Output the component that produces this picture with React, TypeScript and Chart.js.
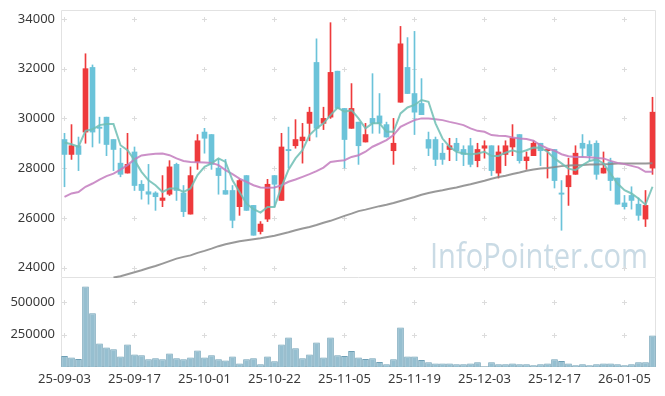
import React, { useEffect, useRef } from 'react';
import { Chart, registerables } from 'chart.js';
Chart.register(...registerables);

const dates = [
  '25-09-03','25-09-04','25-09-05','25-09-08','25-09-09','25-09-10','25-09-11','25-09-12','25-09-15','25-09-16',
  '25-09-17','25-09-18','25-09-19','25-09-22','25-09-23','25-09-24','25-09-25','25-09-26','25-09-29','25-09-30',
  '25-10-01','25-10-02','25-10-10','25-10-13','25-10-14','25-10-15','25-10-16','25-10-17','25-10-20','25-10-21',
  '25-10-22','25-10-23','25-10-24','25-10-27','25-10-28','25-10-29','25-10-30','25-10-31','25-11-03','25-11-04',
  '25-11-05','25-11-06','25-11-07','25-11-10','25-11-11','25-11-12','25-11-13','25-11-14','25-11-17','25-11-18',
  '25-11-19','25-11-20','25-11-21','25-11-24','25-11-25','25-11-26','25-11-27','25-11-28','25-12-01','25-12-02',
  '25-12-03','25-12-04','25-12-05','25-12-08','25-12-09','25-12-10','25-12-11','25-12-12','25-12-15','25-12-16',
  '25-12-17','25-12-18','25-12-19','25-12-22','25-12-23','25-12-24','25-12-26','25-12-29','25-12-30','26-01-02',
  '26-01-05','26-01-06','26-01-07','26-01-08','26-01-09'
];

const opens = [
  29150,28550,28900,29450,32050,29650,30050,29150,28200,27800,
  28650,27350,27050,27000,26700,26950,28150,27000,26150,28250,
  29450,29350,28000,27100,27100,26450,27700,26500,25450,25950,
  27700,26700,28750,28900,29100,29800,32250,29800,30050,31900,
  30400,29600,29850,29050,30000,30100,29750,28700,30650,32050,
  31000,30600,29150,29150,28600,28750,29000,28750,28900,28300,
  28800,28900,27800,28550,28850,29350,28300,28500,29000,28700,
  28750,27000,27250,27750,29000,28950,29000,27800,28250,27600,
  26600,26900,26550,25950,28000
];
const highs = [
  29400,29750,29250,32600,32150,30050,30050,29150,28800,29400,
  28850,27500,28150,27050,27700,28300,28200,27300,28050,29350,
  29600,29350,28350,28350,27300,27550,27700,26500,25850,27550,
  27700,29400,29650,29950,29800,30450,33200,30450,33850,31900,
  30400,31400,29850,29800,31800,31000,29850,30000,33700,33250,
  33500,31600,29450,29250,29000,29200,29200,28900,29200,29000,
  29100,28900,28900,29100,29750,29350,28650,29100,29000,28750,
  28750,27500,28400,28900,29350,29100,29100,28650,28400,27600,
  26900,27250,26800,27100,30850
];
const lows = [
  27250,28350,27900,29000,28850,29000,28500,27900,27650,27800,
  27100,26750,26550,26300,26450,26900,26700,26050,26150,27950,
  28600,27950,26950,26950,25600,26100,26300,25300,25350,25850,
  26450,26700,28000,28800,28200,29100,29250,29550,30000,30400,
  28000,29600,28150,29050,29400,29400,29250,28150,30650,31000,
  29350,30150,28500,28100,28150,28300,28300,28100,28050,28050,
  28400,27700,27600,28100,28500,28200,27950,28500,28100,27600,
  27200,25500,26500,27750,28450,28300,27550,27800,27100,26550,
  26350,26350,25900,25650,27750
];
const closes = [
  28550,28900,28550,32000,29450,29600,28950,28750,27750,28150,
  27300,27100,26950,26850,26800,28050,27100,26250,27700,29100,
  29200,28150,27700,26950,25900,27500,26300,25300,25750,27350,
  27350,28850,28700,29150,29250,30250,29600,30000,31850,30400,
  29150,30400,28900,29350,29800,29800,29250,29000,33000,31000,
  30250,30150,28800,28350,28350,28900,28700,28550,28150,28750,
  28900,27900,28650,28900,29200,28300,28450,29000,28700,28750,
  27500,26950,27700,28600,28800,28500,27750,28000,27500,26550,
  26450,26700,26100,26500,30250
];
const volumes = [
  85000,74000,62000,623000,415000,182000,151000,138000,82000,174000,
  97000,90000,59000,67000,59000,105000,67000,59000,74000,128000,
  74000,90000,59000,51000,82000,28000,59000,67000,21000,82000,
  44000,174000,228000,144000,67000,97000,190000,74000,228000,90000,
  85000,123000,74000,62000,67000,39000,21000,59000,305000,82000,
  82000,54000,36000,28000,28000,28000,21000,21000,28000,36000,
  5000,36000,21000,21000,28000,21000,21000,13000,21000,28000,
  59000,46000,28000,13000,21000,13000,21000,28000,28000,21000,
  13000,21000,36000,36000,243000
];
const ma5 = [
  29030,28960,28860,29500,29560,29730,29770,29770,28920,28720,
  28320,27850,27510,27310,27040,27180,27180,27040,27180,27720,
  28050,28190,28390,28250,27510,27040,26570,26350,26210,26440,
  26440,27250,27940,28390,28720,29330,29600,29800,30130,30430,
  30270,30330,30000,29600,29800,29800,29460,29460,30200,30440,
  30540,30740,30670,29800,29190,28860,28660,28590,28560,28590,
  28660,28490,28490,28620,28720,28630,28720,28830,28820,28660,
  28390,28190,27980,27920,28120,28290,28350,28190,27780,27380,
  27110,26980,26780,26530,27250
];
const ma20 = [
  26840,26980,27040,27250,27380,27540,27680,27780,27940,28120,
  28350,28510,28550,28580,28590,28520,28390,28290,28250,28240,
  28230,28210,28120,27920,27760,27580,27450,27310,27220,27210,
  27220,27310,27450,27540,27650,27760,27880,28020,28250,28290,
  28320,28450,28520,28660,28860,28990,29130,29330,29660,29800,
  29930,30000,30000,29970,29930,29860,29800,29730,29600,29500,
  29460,29330,29300,29290,29230,29190,29170,29100,28920,28790,
  28700,28560,28480,28450,28450,28440,28410,28390,28290,28210,
  28160,28090,28020,27850,27850
];
const ma60 = [
  null,null,null,null,null,null,null,23600,23650,23730,
  23810,23890,23980,24060,24160,24260,24360,24430,24490,24590,
  24670,24760,24860,24940,25000,25060,25100,25140,25180,25230,
  25280,25350,25420,25500,25570,25630,25710,25800,25880,25980,
  26080,26170,26270,26330,26400,26470,26530,26600,26680,26760,
  26840,26930,27000,27060,27110,27170,27220,27290,27350,27420,
  27490,27570,27640,27690,27760,27820,27890,27940,27980,28000,
  28040,28080,28110,28120,28130,28150,28150,28160,28170,28190,
  28190,28190,28190,28190,28200
];
const priceTicks = [24000, 26000, 28000, 30000, 32000, 34000];
const volumeTicks = [250000, 500000];
const PRICE_MIN = 23580;
const PRICE_MAX = 34360;
const VOL_MAX = 688000;

const UP = '#ee3a3c';
const DOWN = '#6bc3d9';
const FONT = "'Noto Sans', sans-serif";
const TEXT = '#3a3a3a';
const BORDER = '#e2e2e2';

const candleColors = opens.map((o, i) => (closes[i] >= o ? UP : DOWN));

function makeDecor(yTicks: number[], full: boolean, watermark: boolean) {
  return {
    id: 'decor',
    beforeDatasetsDraw(chart: any) {
      const { ctx, chartArea, scales } = chart;
      ctx.save();
      if (watermark) {
        ctx.font = "34px 'Open Sans', sans-serif";
        ctx.fillStyle = '#cadbe5';
        ctx.textAlign = 'left';
        ctx.textBaseline = 'alphabetic';
        ctx.fillText('InfoPointer.com', 430, 268, 218);
      }
      ctx.strokeStyle = '#dcdcdc';
      ctx.lineWidth = 1;
      for (let i = 0; i < dates.length; i += 10) {
        const x = Math.floor(scales.x.getPixelForValue(i)) + 0.5;
        for (const v of yTicks) {
          const y = Math.round(scales.y.getPixelForValue(v)) + 0.5;
          ctx.beginPath();
          ctx.moveTo(x - 2.5, y);
          ctx.lineTo(x + 2.5, y);
          ctx.moveTo(x, y - 2.5);
          ctx.lineTo(x, y + 2.5);
          ctx.stroke();
        }
      }
      ctx.strokeStyle = BORDER;
      const l = chartArea.left + 0.5;
      const r = chartArea.right - 0.5;
      const t = chartArea.top + 0.5;
      const b = chartArea.bottom - 0.5;
      ctx.beginPath();
      if (full) {
        ctx.rect(l, t, r - l, b - t);
      } else {
        ctx.moveTo(l, chartArea.top);
        ctx.lineTo(l, b);
        ctx.lineTo(r, b);
        ctx.lineTo(r, chartArea.top);
      }
      ctx.stroke();
      ctx.restore();
    },
  };
}

const fitY = (s: any) => {
  s.width = 61;
  s.paddingTop = 0;
  s.paddingBottom = 0;
};
const plain = (v: any) => String(v);

export default function App() {
  const topRef = useRef<HTMLCanvasElement>(null);
  const botRef = useRef<HTMLCanvasElement>(null);

  useEffect(() => {
    Chart.defaults.font.family = FONT;
    Chart.defaults.font.size = 13;
    Chart.defaults.color = TEXT;

    const top = new Chart(topRef.current as HTMLCanvasElement, {
      type: 'bar',
      data: {
        labels: dates,
        datasets: [
          {
            type: 'line',
            data: ma5,
            borderColor: 'rgba(110,190,180,0.85)',
            borderWidth: 2,
            pointRadius: 0,
            tension: 0,
            order: 0,
            clip: 0,
          } as any,
          {
            type: 'line',
            data: ma20,
            borderColor: 'rgba(195,125,190,0.85)',
            borderWidth: 2,
            pointRadius: 0,
            tension: 0,
            order: 0,
            clip: 0,
          } as any,
          {
            type: 'line',
            data: ma60,
            borderColor: 'rgba(135,135,135,0.85)',
            borderWidth: 2,
            pointRadius: 0,
            tension: 0,
            order: 0,
            clip: 0,
          } as any,
          {
            type: 'bar',
            data: opens.map((o, i) => [o, closes[i]]),
            backgroundColor: candleColors,
            borderWidth: 0,
            barThickness: 5,
            minBarLength: 1,
            grouped: false,
            order: 1,
          } as any,
          {
            type: 'bar',
            data: lows.map((lo, i) => [lo, highs[i]]),
            backgroundColor: candleColors,
            borderWidth: 0,
            barThickness: 1,
            grouped: false,
            order: 2,
          } as any,
        ],
      },
      options: {
        responsive: false,
        animation: false,
        layout: { padding: { top: 10, right: 9, left: 0, bottom: 0 } },
        plugins: { legend: { display: false }, tooltip: { enabled: false } },
        scales: {
          x: {
            display: false,
            offset: true,
            grid: { display: false },
            afterFit: (s: any) => { s.height = 0; s.paddingLeft = 0; s.paddingRight = 0; },
          },
          y: {
            min: PRICE_MIN,
            max: PRICE_MAX,
            afterFit: fitY,
            afterBuildTicks: (s: any) => { s.ticks = priceTicks.map((v) => ({ value: v })); },
            grid: { display: false, drawTicks: false },
            border: { display: false },
            ticks: { padding: 6, color: TEXT, font: { family: FONT, size: 13 }, callback: plain },
          },
        },
      } as any,
      plugins: [makeDecor(priceTicks, true, true)],
    });

    const bot = new Chart(botRef.current as HTMLCanvasElement, {
      type: 'bar',
      data: {
        labels: dates,
        datasets: [
          {
            data: volumes,
            backgroundColor: '#96bfd0',
            borderColor: '#6e9fb5',
            borderWidth: 1,
            barPercentage: 1,
            categoryPercentage: 0.95,
          },
        ],
      },
      options: {
        responsive: false,
        animation: false,
        layout: { padding: { top: 0, right: 9, left: 0, bottom: 0 } },
        plugins: { legend: { display: false }, tooltip: { enabled: false } },
        scales: {
          x: {
            offset: true,
            grid: { display: false, drawTicks: false },
            border: { display: false },
            afterFit: (s: any) => { s.height = 29; s.paddingLeft = 0; s.paddingRight = 0; },
            ticks: {
              autoSkip: false,
              maxRotation: 0,
              padding: 4,
              color: TEXT,
              font: { family: FONT, size: 13 },
              callback: (_v: any, idx: number) => (idx % 10 === 0 ? dates[idx] : null),
            },
          },
          y: {
            min: 0,
            max: VOL_MAX,
            afterFit: fitY,
            afterBuildTicks: (s: any) => { s.ticks = volumeTicks.map((v) => ({ value: v })); },
            grid: { display: false, drawTicks: false },
            border: { display: false },
            ticks: { padding: 6, color: TEXT, font: { family: FONT, size: 13 }, callback: plain },
          },
        },
      } as any,
      plugins: [makeDecor(volumeTicks, false, false)],
    });

    return () => {
      top.destroy();
      bot.destroy();
    };
  }, []);

  return (
    <div style={{ position: 'absolute', left: 0, top: 0, width: 665, height: 396, background: '#fff' }}>
      <canvas ref={topRef} width={665} height={278} style={{ position: 'absolute', left: 0, top: 0, width: 665, height: 278 }} />
      <canvas ref={botRef} width={665} height={118} style={{ position: 'absolute', left: 0, top: 278, width: 665, height: 118 }} />
    </div>
  );
}
